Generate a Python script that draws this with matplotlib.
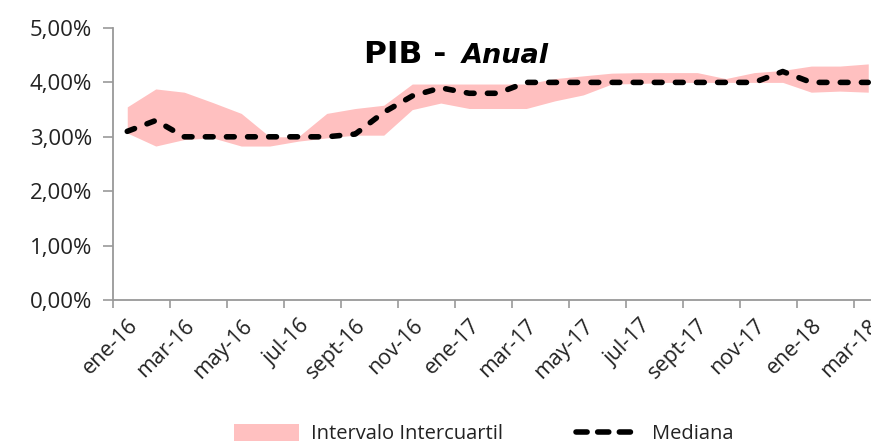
import numpy as np
import matplotlib
matplotlib.use("Agg")
import matplotlib.pyplot as plt
from matplotlib.patches import Patch
from matplotlib.lines import Line2D
from matplotlib.ticker import FuncFormatter

# meses ene-16 .. mar-18
months = ["ene-16", "feb-16", "mar-16", "abr-16", "may-16", "jun-16", "jul-16", "ago-16",
          "sept-16", "oct-16", "nov-16", "dic-16", "ene-17", "feb-17", "mar-17", "abr-17",
          "may-17", "jun-17", "jul-17", "ago-17", "sept-17", "oct-17", "nov-17", "dic-17",
          "ene-18", "feb-18", "mar-18"]

mediana = [3.10, 3.30, 3.00, 3.00, 3.00, 3.00, 3.00, 3.00, 3.05, 3.45, 3.75, 3.90,
           3.80, 3.80, 4.00, 4.00, 4.00, 4.00, 4.00, 4.00, 4.00, 4.00, 4.00, 4.20,
           4.00, 4.00, 4.00]
q_sup = [3.55, 3.88, 3.82, 3.63, 3.43, 3.00, 3.00, 3.43, 3.52, 3.58, 3.97, 3.97,
         3.97, 3.97, 3.97, 4.07, 4.12, 4.17, 4.18, 4.18, 4.18, 4.07, 4.18, 4.22,
         4.30, 4.30, 4.34]
q_inf = [3.07, 2.83, 2.95, 2.98, 2.83, 2.83, 2.92, 2.98, 3.03, 3.03, 3.50, 3.62,
         3.52, 3.52, 3.52, 3.66, 3.77, 3.97, 3.98, 4.00, 4.00, 4.00, 4.00, 4.00,
         3.82, 3.84, 3.82]

plt.rcParams['font.family'] = ["Open Sans", 'DejaVu Sans']

fig = plt.figure(figsize=(8.71, 4.46), dpi=100)
ax = fig.add_axes([113 / 871, 146 / 446, 769.5 / 871, 272 / 446])

x = np.arange(len(months))
ax.fill_between(x, q_inf, q_sup, color="#ffc0c0", lw=0)
ax.plot(x, mediana, color="black", lw=4, dashes=(1.4, 2.4),
        dash_capstyle="round", solid_capstyle="round")

ax.set_xlim(-0.5, len(months) - 0.5)
ax.set_ylim(0, 5)
ax.set_yticks(np.arange(0, 5.01, 1))
ax.yaxis.set_major_formatter(FuncFormatter(lambda v, p: f"{v:.2f}%".replace(".", ",")))

# tick marks at category borders, labels every 2 months
ax.set_xticks(np.arange(-0.5, len(months), 2))
ax.set_xticklabels([])
ax.set_xticks(x[::2], minor=True)
ax.set_xticklabels(months[::2], minor=True, rotation=45, ha="right",
                   rotation_mode="anchor", fontsize=15.5, color="#222222")
ax.tick_params(axis="x", which="minor", length=0, pad=11)
ax.tick_params(axis="x", which="major", length=6, color="#999999", width=1.2)
ax.tick_params(axis="y", length=7, color="#999999", width=1.2,
               labelsize=16, labelcolor="#222222", pad=8)

for s in ["top", "right"]:
    ax.spines[s].set_visible(False)
for s in ["left", "bottom"]:
    ax.spines[s].set_color("#999999")
    ax.spines[s].set_linewidth(1.3)

# titulo
ax.text(457 / 871, 1 - 63 / 446, "PIB - ", transform=fig.transFigure, ha="right",
        va="baseline", fontsize=22.5, fontweight="bold", color="black",
        family="DejaVu Sans")
ax.text(462 / 871, 1 - 63 / 446, "Anual", transform=fig.transFigure, ha="left",
        va="baseline", fontsize=19.5, fontweight="bold", style="italic", color="black",
        family="DejaVu Sans")

handles = [Patch(facecolor="#ffc0c0", edgecolor="none"),
           Line2D([0], [0], color="black", lw=4, dashes=(2.0, 1.9), dash_capstyle="round")]
fig.legend(handles, ["Intervalo Intercuartil", "Mediana"], loc="center",
           bbox_to_anchor=(484 / 871, 1 - 434 / 446), ncol=2, frameon=False,
           fontsize=14.5, handlelength=3.2, handleheight=0.9, columnspacing=3.6,
           handletextpad=0.6, labelcolor="#222222")

fig.savefig("out.png", dpi=100)
